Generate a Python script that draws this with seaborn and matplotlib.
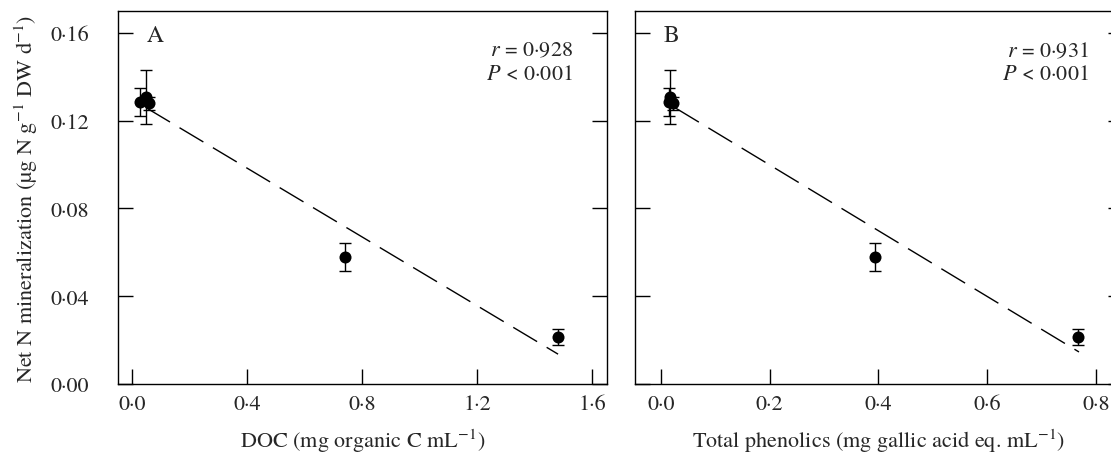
import numpy as np
import pandas as pd
import seaborn as sns
import matplotlib.pyplot as plt

# values
n_min = [0.1286, 0.1309, 0.1280, 0.0577, 0.0214]      # net N mineralization
n_err = [0.0064, 0.0123, 0.0030, 0.0064, 0.0036]
doc = [0.028, 0.048, 0.058, 0.741, 1.482]             # panel A x
phenolics = [0.015, 0.017, 0.022, 0.394, 0.767]       # panel B x

# fitted lines (end points as drawn)
fit_a_x = [0.049, 1.482]
fit_a_y = [0.1259, 0.0136]
fit_b_x = [0.0257, 0.769]
fit_b_y = [0.1259, 0.0146]

y_ticks = [0.0, 0.04, 0.08, 0.12, 0.16]
y_ticklabels = ['0·00', '0·04', '0·08', '0·12', '0·16']
xa_ticks = [0.0, 0.4, 0.8, 1.2, 1.6]
xa_ticklabels = ['0·0', '0·4', '0·8', '1·2', '1·6']
xb_ticks = [0.0, 0.2, 0.4, 0.6, 0.8]
xb_ticklabels = ['0·0', '0·2', '0·4', '0·6', '0·8']

stats_a = ['$r$ = 0·928', '$P$ < 0·001']
stats_b = ['$r$ = 0·931', '$P$ < 0·001']

sns.set_theme(style='ticks')
plt.rcParams['font.family'] = ['TeX Gyre Termes', 'STIXGeneral', 'DejaVu Serif']
plt.rcParams['mathtext.fontset'] = 'stix'
plt.rcParams['axes.linewidth'] = 1.0

fig = plt.figure(figsize=(11.11, 4.56), dpi=100)
ax_a = fig.add_axes([0.1062, 0.1557, 0.4401, 0.818])
ax_b = fig.add_axes([0.5716, 0.1557, 0.4392, 0.818])


def draw_panel(ax, xs, fit_x, fit_y, letter, stats, xticks, xticklabels, xlim):
    df = pd.DataFrame({'x': xs, 'y': n_min, 'err': n_err})
    ax.plot(fit_x, fit_y, color='black', lw=1.0, linestyle=(0, (20, 8)), zorder=2)
    ax.errorbar(df['x'], df['y'], yerr=df['err'], fmt='none', ecolor='black',
                elinewidth=1.0, capsize=4, capthick=1.0, zorder=3)
    sns.scatterplot(data=df, x='x', y='y', ax=ax, color='black', s=75,
                    edgecolor='black', linewidth=0, zorder=4)
    ax.set_xlim(xlim)
    ax.set_ylim(0, 0.17)
    ax.set_xticks(xticks)
    ax.set_xticklabels(xticklabels)
    ax.set_yticks(y_ticks)
    ax.tick_params(direction='in', length=10.5, width=1.0, labelsize=16,
                   top=False, right=True, color='black')
    ax.tick_params(axis='x', pad=7)
    ax.tick_params(axis='y', pad=21)
    for s in ax.spines.values():
        s.set_color('black')
    ax.text(0.059, 0.936, letter, transform=ax.transAxes, fontsize=17,
            ha='left', va='center')
    ax.text(0.93, 0.893, stats[0], transform=ax.transAxes, fontsize=16,
            ha='right', va='center')
    ax.text(0.93, 0.831, stats[1], transform=ax.transAxes, fontsize=16,
            ha='right', va='center')


draw_panel(ax_a, doc, fit_a_x, fit_a_y, 'A', stats_a, xa_ticks, xa_ticklabels, (-0.049, 1.652))
draw_panel(ax_b, phenolics, fit_b_x, fit_b_y, 'B', stats_b, xb_ticks, xb_ticklabels, (-0.048, 0.85))

ax_a.set_yticklabels(y_ticklabels)
ax_b.set_yticklabels([])

ax_a.set_xlabel('DOC (mg organic C mL$^{-1}$)', fontsize=16, labelpad=9)
ax_b.set_xlabel('Total phenolics (mg gallic acid eq. mL$^{-1}$)', fontsize=16, labelpad=9)
ax_a.set_ylabel('Net N mineralization (µg N g$^{-1}$ DW d$^{-1}$)', fontsize=16, labelpad=7)
ax_b.set_ylabel('')

fig.savefig('out.png', dpi=100)
